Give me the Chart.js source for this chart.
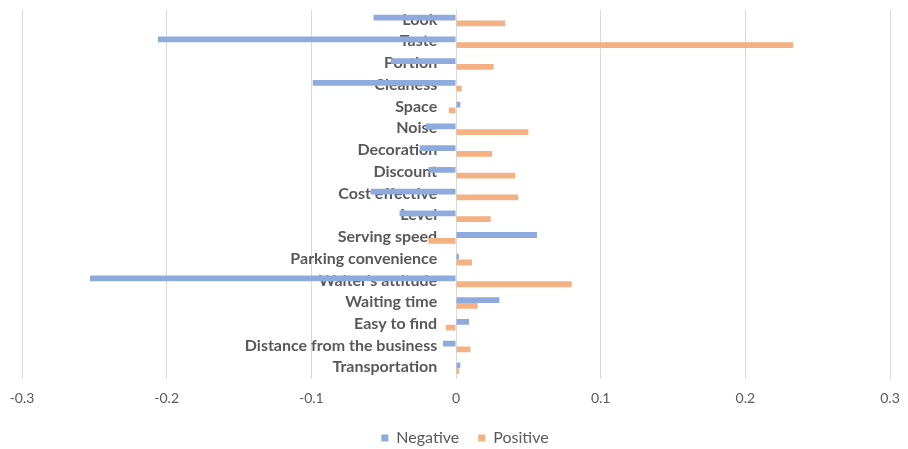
<!DOCTYPE html>
<html>
<head>
<meta charset="utf-8">
<script src="https://cdn.jsdelivr.net/npm/chart.js@4/dist/chart.umd.min.js"></script>
<style>
  html, body { margin: 0; padding: 0; background: #fff; }
  #wrap { width: 908px; height: 449px; }
</style>
</head>
<body>
<div id="wrap"><canvas id="sentimentChart"></canvas></div>
<script>
const categories = [
  'Look', 'Taste', 'Portion', 'Cleaness', 'Space', 'Noise', 'Decoration', 'Discount',
  'Cost effective', 'Level', 'Serving speed', 'Parking convenience', "Waiter's attitude",
  'Waiting time', 'Easy to find', 'Distance from the business', 'Transportation',
];
const negative = [
  -0.057, -0.206, -0.045, -0.099, 0.003, -0.021, -0.025, -0.019,
  -0.059, -0.039, 0.056, 0.002, -0.253,
  0.030, 0.009, -0.009, 0.003,
];
const positive = [
  0.034, 0.233, 0.026, 0.004, -0.005, 0.050, 0.025, 0.041,
  0.043, 0.024, -0.019, 0.011, 0.080,
  0.015, -0.007, 0.010, 0.002,
];
const xTickLabels = ['-0.3', '-0.2', '-0.1', '0', '0.1', '0.2', '0.3'];

const TEXT = '#595959';
const GRID = '#d9d9d9';
const BLUE = '#8faadc';
const ORANGE = '#f4b183';

const ctx = document.getElementById('sentimentChart').getContext('2d');
new Chart(ctx, {
  type: 'bar',
  data: {
    labels: categories,
    datasets: [
      { label: 'Negative', data: negative, backgroundColor: BLUE, categoryPercentage: 0.53, barPercentage: 1 },
      { label: 'Positive', data: positive, backgroundColor: ORANGE, categoryPercentage: 0.53, barPercentage: 1 },
    ],
  },
  options: {
    indexAxis: 'y',
    responsive: true,
    maintainAspectRatio: false,
    animation: false,
    layout: { padding: { top: 7, left: 22, right: 0, bottom: -7 } },
    scales: {
      x: {
        min: -0.3,
        max: 0.3,
        ticks: {
          stepSize: 0.1,
          color: TEXT,
          font: { family: 'Lato', size: 14 },
          padding: 11,
          callback: (v, i) => xTickLabels[i],
        },
        grid: { color: GRID, lineWidth: 1, drawTicks: false },
        border: { display: false },
        afterFit: (scale) => {
          // fixed side margins so the outer gridlines sit near the canvas edges
          scale.paddingLeft = 21;
          scale.paddingRight = 18;
          scale.height -= 7;
        },
      },
      y: {
        // category names sit just left of the zero line, on top of the bars
        position: { x: -0.013 },
        z: 1,
        ticks: {
          autoSkip: false,
          color: TEXT,
          font: { family: 'Lato', size: 16, weight: 'bold' },
          padding: 0,
          labelOffset: -1,
        },
        grid: { display: false },
        border: { display: false },
      },
    },
    plugins: {
      legend: {
        position: 'bottom',
        labels: {
          boxWidth: 7,
          boxHeight: 7,
          color: TEXT,
          font: { family: 'Lato', size: 16 },
          padding: 19,
        },
      },
      tooltip: { enabled: false },
    },
  },
});
</script>
</body>
</html>
